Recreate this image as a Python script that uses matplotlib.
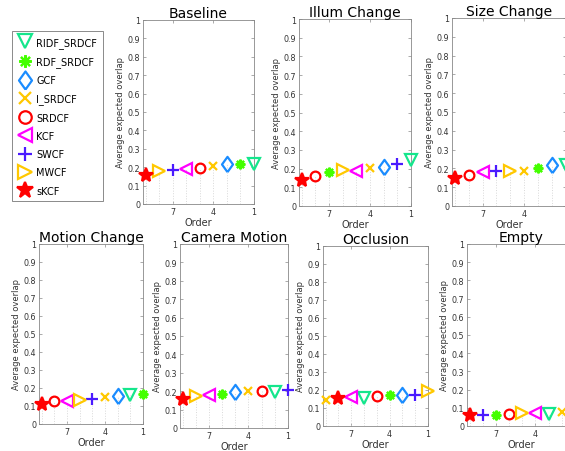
import numpy as np
import matplotlib.pyplot as plt
from matplotlib.lines import Line2D

# trackers, same order as legend
trackers = ['RIDF_SRDCF', 'RDF_SRDCF', 'GCF', 'I_SRDCF', 'SRDCF',
            'KCF', 'SWCF', 'MWCF', 'sKCF']
colors = ['#14E68C', '#44FF00', '#1A8CFF', '#FFC800', '#FF0000',
          '#FF00FF', '#4A1AFF', '#FFC800', '#FF0000']
diamond = [(0, -1), (0.72, 0), (0, 1), (-0.72, 0), (0, -1)]
markers = ['v', (8, 2, 0), diamond, 'x', 'o', '<', '+', '>', '*']
msizes = [8, 7, 11, 6, 7, 8, 8, 8, 10]

attributes = ['Baseline', 'Illum Change', 'Size Change', 'Motion Change',
              'Camera Motion', 'Occlusion', 'Empty']

# rank (order) of each tracker per attribute
order_baseline = [1, 2, 3, 4, 5, 6, 7, 8, 9]
order_illum = [1, 7, 3, 4, 8, 5, 2, 6, 9]
order_size = [1, 3, 2, 4, 8, 7, 6, 5, 9]
order_motion = [2, 1, 3, 4, 8, 7, 5, 6, 9]
order_camera = [2, 6, 5, 4, 3, 7, 1, 8, 9]
order_occl = [6, 4, 3, 9, 5, 7, 2, 1, 8]
order_empty = [3, 7, 1, 2, 6, 4, 8, 5, 9]

# average expected overlap of each tracker per attribute
eao_baseline = [0.22, 0.22, 0.22, 0.205, 0.195, 0.19, 0.185, 0.18, 0.155]
eao_illum = [0.247, 0.18, 0.208, 0.205, 0.158, 0.187, 0.222, 0.19, 0.137]
eao_size = [0.216, 0.20, 0.22, 0.188, 0.163, 0.18, 0.184, 0.184, 0.149]
eao_motion = [0.16, 0.165, 0.157, 0.152, 0.126, 0.128, 0.139, 0.133, 0.113]
eao_camera = [0.198, 0.187, 0.196, 0.20, 0.202, 0.182, 0.205, 0.173, 0.16]
eao_occl = [0.158, 0.17, 0.173, 0.143, 0.166, 0.162, 0.175, 0.195, 0.153]
eao_empty = [0.068, 0.061, 0.078, 0.077, 0.064, 0.072, 0.059, 0.072, 0.059]

orders = [order_baseline, order_illum, order_size, order_motion,
          order_camera, order_occl, order_empty]
eaos = [eao_baseline, eao_illum, eao_size, eao_motion,
        eao_camera, eao_occl, eao_empty]

W, H = 565, 452
# axes boxes in pixels: left, top, right, bottom
boxes = [(143, 21, 254, 205), (299, 20, 411, 207), (452, 19, 566, 207),
         (39, 245, 143, 425), (180, 245, 288, 429), (323, 247, 428, 427),
         (467, 245, 575, 427)]

fig = plt.figure(figsize=(W/100, H/100), dpi=100)

for name, order, eao, (l, t, r, b) in zip(attributes, orders, eaos, boxes):
    ax = fig.add_axes([l/W, 1-b/H, (r-l)/W, (b-t)/H])
    for i in range(len(trackers)):
        ax.vlines(order[i], 0, eao[i], colors='#d8d8d8', linestyles=':', lw=0.7)
    for i in range(len(trackers)):
        filled = markers[i] == '*'
        ax.plot(order[i], eao[i], linestyle='none', marker=markers[i],
                ms=msizes[i], mew=1.6, color=colors[i],
                mfc=colors[i] if filled else 'none', clip_on=False, zorder=3)
    ax.set_xlim(9.2, 1)
    ax.set_ylim(0, 1)
    ax.set_xticks([7, 4, 1] if r < W else [7, 4])
    ax.set_yticks(np.arange(0, 1.01, 0.1))
    ax.set_yticklabels(['0'] + ['%.1f' % v for v in np.arange(0.1, 0.95, 0.1)] + ['1'])
    ax.tick_params(direction='in', top=True, right=True, length=2.5, width=0.5,
                   labelsize=5.8, colors='#888888', labelcolor='#333333', pad=2)
    for s in ax.spines.values():
        s.set_color('#888888')
        s.set_linewidth(0.6)
    ax.set_title(name, fontsize=10, pad=2)
    ax.set_xlabel('Order', fontsize=7, color='#333333', labelpad=1)
    ax.set_ylabel('Average expected overlap', fontsize=6, color='#333333', labelpad=2)

handles = []
for i in range(len(trackers)):
    filled = markers[i] == '*'
    handles.append(Line2D([], [], linestyle='none', marker=markers[i],
                          ms=msizes[i] + 2, mew=1.6, color=colors[i],
                          mfc=colors[i] if filled else 'none'))
leg = fig.legend(handles, trackers, loc='upper left',
                 bbox_to_anchor=(12/W, 1-32/H), borderaxespad=0,
                 fontsize=7, fancybox=False, edgecolor='#555555',
                 labelspacing=0.85, handletextpad=0.5, borderpad=0.6,
                 handlelength=1.4)
leg.get_frame().set_linewidth(0.6)

fig.savefig('out.png', dpi=100)
